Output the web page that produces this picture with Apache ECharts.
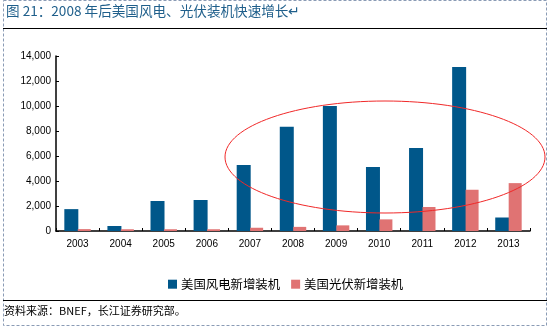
<!DOCTYPE html>
<html><head><meta charset="utf-8">
<script src="https://cdn.jsdelivr.net/npm/echarts@6/dist/echarts.min.js"></script>
<style>html,body{margin:0;padding:0;background:#fff}#c{width:549px;height:328px}</style>
</head><body><div id="c"></div>
<script>
const years = ['2003','2004','2005','2006','2007','2008','2009','2010','2011','2012','2013'];
const windNew = [1750, 400, 2400, 2480, 5280, 8350, 10010, 5120, 6650, 13130, 1080];
const solarNew = [150, 140, 140, 140, 260, 330, 450, 930, 1920, 3300, 3830];
const seriesNames = ['美国风电新增装机', '美国光伏新增装机'];
const titleText = '图 21：2008 年后美国风电、光伏装机快速增长↵';
const sourceText = '资料来源：BNEF，长江证券研究部。';

const chart = echarts.init(document.getElementById('c'), null, {renderer:'canvas'});
const lab = {fontFamily:'Liberation Sans, Arial', fontSize:10, color:'#000'};
chart.setOption({
  animation:false,
  textStyle:{fontFamily:'Liberation Sans, Arial'},
  grid:{left:56, right:19, top:56, bottom:97, containLabel:false},
  legend:{
    data:seriesNames, left:163, top:273, itemWidth:9, itemHeight:9, itemGap:11,
    icon:'rect',
    textStyle:{fontFamily:'Noto Sans CJK SC', fontSize:12.4, color:'#000', padding:[0,0,0,-1]}
  },
  xAxis:{
    type:'category', data:years,
    axisLine:{lineStyle:{color:'#000', width:1.5}},
    axisTick:{show:true, inside:true, length:3, lineStyle:{color:'#000'}},
    axisLabel:Object.assign({margin:8}, lab)
  },
  yAxis:{
    type:'value', min:0, max:14000, interval:2000,
    axisLine:{show:true, lineStyle:{color:'#000', width:1.5}},
    axisTick:{show:true, inside:true, length:3, lineStyle:{color:'#000'}},
    splitLine:{show:false},
    axisLabel:Object.assign({margin:5, formatter:v=>v.toLocaleString('en-US')}, lab)
  },
  series:[
    {name:seriesNames[0], type:'bar', data:windNew, barWidth:14, barGap:'-4%', itemStyle:{color:'#00578A'}},
    {name:seriesNames[1], type:'bar', data:solarNew, barWidth:13, itemStyle:{color:'#E07373'}}
  ],
  graphic:[
    {type:'rect', shape:{x:3.5, y:0.5, width:543, height:325}, style:{fill:'none', stroke:'#8a9bb5', lineWidth:1, lineDash:[3,2]}, silent:true, z:0},
    {type:'text', left:6, top:4, style:{text:titleText, fontFamily:'Noto Sans CJK SC', fontSize:13.6, fill:'#1F5F8B'}},
    {type:'line', shape:{x1:3, y1:28.5, x2:547, y2:28.5}, style:{stroke:'#000', lineWidth:1}},
    {type:'line', shape:{x1:3, y1:300.5, x2:547, y2:300.5}, style:{stroke:'#000', lineWidth:1}},
    {type:'text', left:4, top:305, style:{text:sourceText, fontFamily:'Noto Sans CJK SC', fontSize:11, fill:'#000'}},
    {type:'ellipse', shape:{cx:385, cy:157, rx:160, ry:56}, style:{fill:'none', stroke:'#F02828', lineWidth:1}, z:100}
  ]
});
</script></body></html>
